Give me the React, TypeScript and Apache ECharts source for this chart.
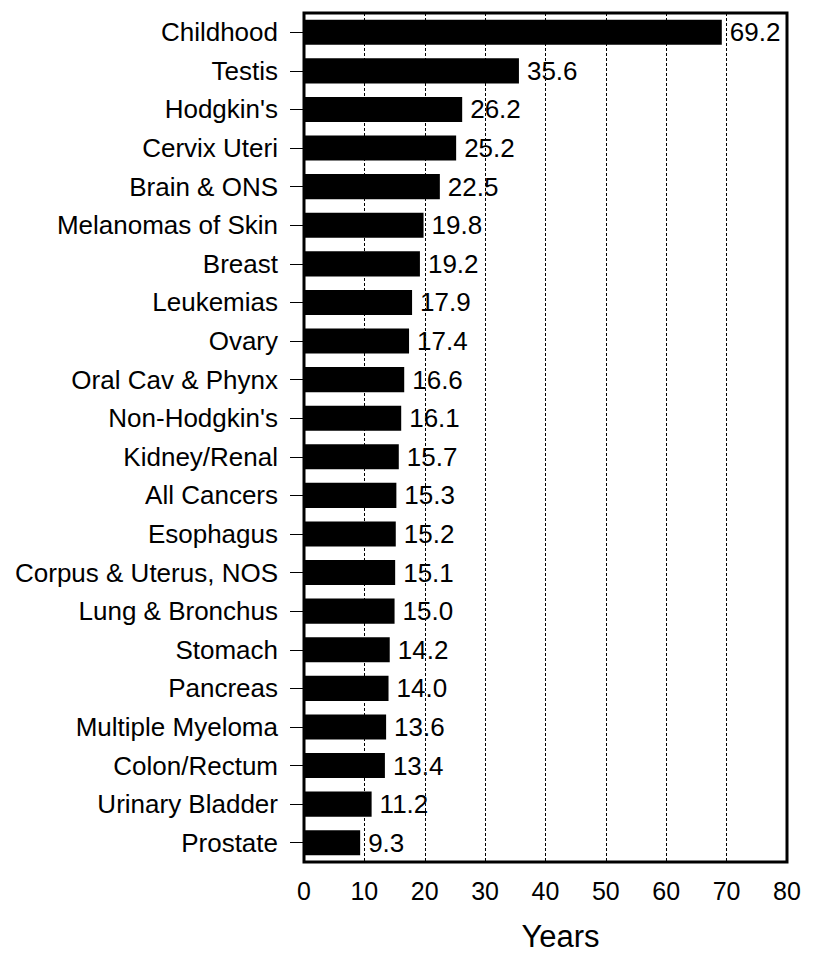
import React, { useEffect, useRef } from "react";
import * as echarts from "echarts";

const categories = [
  "Childhood", "Testis", "Hodgkin's", "Cervix Uteri", "Brain & ONS", "Melanomas of Skin",
  "Breast", "Leukemias", "Ovary", "Oral Cav & Phynx", "Non-Hodgkin's", "Kidney/Renal",
  "All Cancers", "Esophagus", "Corpus & Uterus, NOS", "Lung & Bronchus", "Stomach",
  "Pancreas", "Multiple Myeloma", "Colon/Rectum", "Urinary Bladder", "Prostate",
];
const years = [
  69.2, 35.6, 26.2, 25.2, 22.5, 19.8, 19.2, 17.9, 17.4, 16.6, 16.1, 15.7,
  15.3, 15.2, 15.1, 15.0, 14.2, 14.0, 13.6, 13.4, 11.2, 9.3,
];
const axisName = "Years";

export default function App() {
  const ref = useRef<HTMLDivElement>(null);
  useEffect(() => {
    const chart = echarts.init(ref.current!, null, { renderer: "svg" });
    const font = "'Liberation Sans', Arial, sans-serif";
    chart.setOption({
      animation: false,
      textStyle: { fontFamily: font },
      grid: {
        left: 304, right: 44, top: 13, bottom: 90,
        show: true, borderColor: "#000", borderWidth: 3, backgroundColor: "transparent",
      },
      xAxis: {
        type: "value", min: 0, max: 80, interval: 10,
        axisLine: { show: false }, axisTick: { show: false },
        splitLine: { show: true, lineStyle: { color: "#000", width: 1, type: [3, 2] } },
        axisLabel: { fontSize: 25, color: "#000", margin: 16, fontFamily: font },
        name: axisName, nameLocation: "middle", nameGap: 59,
        nameTextStyle: { fontSize: 31, color: "#000", fontFamily: font, padding: [0, 0, 0, 30] },
      },
      yAxis: {
        type: "category", data: categories, inverse: true,
        axisLine: { show: false },
        axisTick: { show: true, alignWithLabel: true, length: 14, lineStyle: { color: "#000", width: 1 } },
        axisLabel: { fontSize: 26, color: "#000", margin: 26, fontFamily: font },
      },
      series: [{
        type: "bar", data: years, barCategoryGap: "35%",
        itemStyle: { color: "#000" },
        label: {
          show: true, position: "right", distance: 8, fontSize: 26, color: "#000",
          fontFamily: font, formatter: (p: any) => p.value.toFixed(1),
        },
      }],
    });
    return () => chart.dispose();
  }, []);
  return <div ref={ref} style={{ width: 831, height: 957, position: "absolute", left: 0, top: 0 }} />;
}
